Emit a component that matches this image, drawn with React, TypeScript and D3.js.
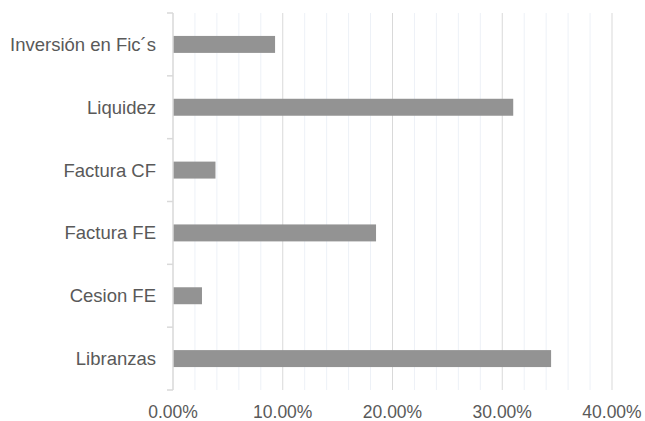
import React, { useEffect, useRef } from 'react';
import * as d3 from 'd3';

const categories = ['Inversión en Fic´s', 'Liquidez', 'Factura CF', 'Factura FE', 'Cesion FE', 'Libranzas'];
const values = [0.093, 0.31, 0.0387, 0.185, 0.0264, 0.3445];
const majorTicks = [0, 0.1, 0.2, 0.3, 0.4];

const width = 645;
const height = 421;
const margin = { top: 13, right: 33, bottom: 31, left: 173 };
const font = "'Liberation Sans', Arial, sans-serif";

export default function App() {
  const ref = useRef<SVGSVGElement>(null);

  useEffect(() => {
    const svg = d3.select(ref.current);
    svg.selectAll('*').remove();

    const x = d3
      .scaleLinear()
      .domain([0, 0.4])
      .range([margin.left, width - margin.right]);

    const y = d3
      .scaleBand()
      .domain(categories)
      .range([margin.top, height - margin.bottom])
      .paddingInner(0.73)
      .paddingOuter(0.365);

    const minor = d3.range(0, 0.4001, 0.02).filter(d => Math.round(d * 100) % 10 !== 0);

    // minor gridlines
    svg
      .append('g')
      .selectAll('line')
      .data(minor)
      .enter()
      .append('line')
      .attr('x1', d => x(d))
      .attr('x2', d => x(d))
      .attr('y1', margin.top)
      .attr('y2', height - margin.bottom)
      .attr('stroke', '#edf1f7')
      .attr('stroke-width', 1);

    // major gridlines
    svg
      .append('g')
      .selectAll('line')
      .data(majorTicks.slice(1))
      .enter()
      .append('line')
      .attr('x1', d => x(d))
      .attr('x2', d => x(d))
      .attr('y1', margin.top)
      .attr('y2', height - margin.bottom)
      .attr('stroke', '#d9d9d9')
      .attr('stroke-width', 1);

    // bars
    svg
      .append('g')
      .selectAll('rect')
      .data(values)
      .enter()
      .append('rect')
      .attr('x', x(0))
      .attr('y', (_, i) => y(categories[i]) as number)
      .attr('width', d => x(d) - x(0))
      .attr('height', y.bandwidth())
      .attr('fill', '#939393');

    // vertical axis line and ticks at band edges
    const edges = d3
      .range(categories.length + 1)
      .map(i => margin.top + i * ((height - margin.bottom - margin.top) / categories.length));
    svg
      .append('line')
      .attr('x1', x(0))
      .attr('x2', x(0))
      .attr('y1', margin.top)
      .attr('y2', height - margin.bottom)
      .attr('stroke', '#d9d9d9')
      .attr('stroke-width', 1.5);
    svg
      .append('g')
      .selectAll('line')
      .data(edges)
      .enter()
      .append('line')
      .attr('x1', x(0) - 6)
      .attr('x2', x(0))
      .attr('y1', d => d)
      .attr('y2', d => d)
      .attr('stroke', '#d9d9d9')
      .attr('stroke-width', 1.5);

    // category labels
    svg
      .append('g')
      .selectAll('text')
      .data(categories)
      .enter()
      .append('text')
      .attr('x', margin.left - 17)
      .attr('y', d => (y(d) as number) + y.bandwidth() / 2)
      .attr('dy', '0.35em')
      .attr('text-anchor', 'end')
      .attr('font-family', font)
      .attr('font-size', 18.5)
      .attr('fill', '#595959')
      .text(d => d);

    // x tick labels
    svg
      .append('g')
      .selectAll('text')
      .data(majorTicks)
      .enter()
      .append('text')
      .attr('x', d => x(d))
      .attr('y', 418)
      .attr('text-anchor', 'middle')
      .attr('font-family', font)
      .attr('font-size', 17.5)
      .attr('fill', '#595959')
      .text(d => d3.format('.2%')(d));
  }, []);

  return (
    <svg
      ref={ref}
      width={width}
      height={height}
      style={{ position: 'absolute', left: 0, top: 0, background: '#fff' }}
    />
  );
}
